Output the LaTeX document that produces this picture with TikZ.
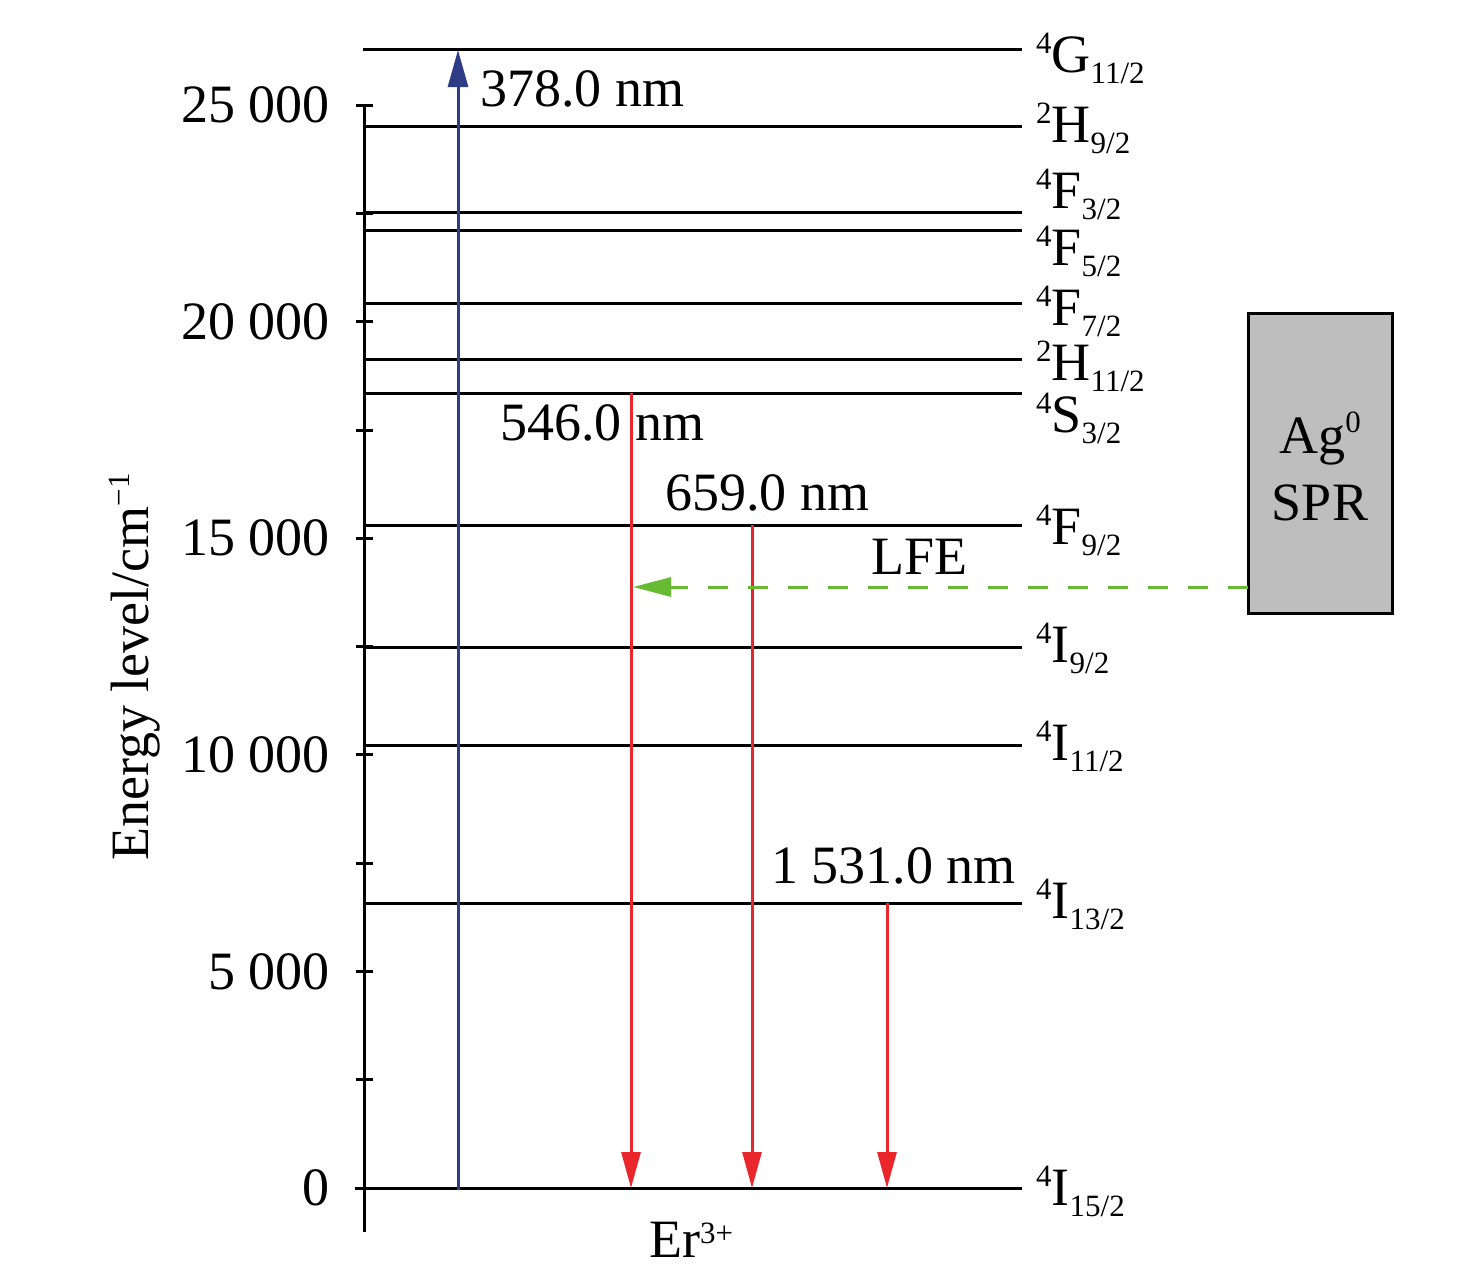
\documentclass[tikz,border=0pt]{standalone}
\usepackage{fontspec}
\setmainfont{Liberation Serif}
\usetikzlibrary{arrows.meta}
\definecolor{pumpblue}{HTML}{2E3B85}
\definecolor{emitred}{HTML}{E8262B}
\definecolor{lfegreen}{HTML}{66BB33}
\definecolor{boxgray}{HTML}{BEBEBE}
\newcommand{\bigf}{\fontsize{54}{60}\selectfont}
\newcommand{\smallf}{\fontsize{31}{33}\selectfont}
\newcommand{\lvlabel}[3]{{\smallf\raisebox{19pt}{#1}}#2{\smallf\raisebox{-11pt}{#3}}}
\begin{document}
\begin{tikzpicture}[x=1pt,y=-1pt,
  lvline/.style={line width=3pt, black},
  txt/.style={inner sep=0pt, font=\bigf, text=black},
  redarrow/.style={line width=3pt, emitred, -{Triangle[length=36pt,width=19pt]}},
  bluearrow/.style={line width=3pt, pumpblue, -{Triangle[length=37pt,width=20pt]}},
  greenarrow/.style={line width=3pt, lfegreen, dash pattern=on 20pt off 20pt, -{Triangle[length=38pt,width=19pt]}},
  agbox/.style={draw=black, fill=boxgray, line width=3pt, minimum width=144pt, minimum height=300pt, inner sep=0pt}]
\useasboundingbox (0,0) rectangle (1476,1280);

% axis
\draw[lvline] (364,105) -- (364,1232);
\foreach \ty in {105,213.3,321.6,430,538.2,646.5,754.8,863.1,971.4,1079.7,1188}
  \draw[lvline] (356,\ty) -- (373,\ty);

% tick labels
\node[txt, anchor=east] (t25) at (330,105) {25 000};
\node[txt, anchor=east] (t20) at (330,321.6) {20 000};
\node[txt, anchor=east] (t15) at (330,538.2) {15 000};
\node[txt, anchor=east] (t10) at (330,754.8) {10 000};
\node[txt, anchor=east] (t5) at (330,971.4) {5 000};
\node[txt, anchor=east] (t0) at (330,1188) {0};

% axis title
\node[txt, rotate=90, anchor=base] (ytitle) at (148,667) {Energy level/cm{\smallf\raisebox{19pt}{−1}}};

% energy levels
\draw[lvline] (363,49) -- (1022,49);
\draw[lvline] (365,126) -- (1022,126);
\draw[lvline] (365,212) -- (1022,212);
\draw[lvline] (365,230) -- (1022,230);
\draw[lvline] (365,303) -- (1022,303);
\draw[lvline] (365,359) -- (1022,359);
\draw[lvline] (365,393) -- (1022,393);
\draw[lvline] (365,525) -- (1022,525);
\draw[lvline] (365,647) -- (1022,647);
\draw[lvline] (365,745) -- (1022,745);
\draw[lvline] (365,903) -- (1022,903);
\draw[lvline] (355,1188) -- (1022,1188);

% level labels
\node[txt, anchor=base west] (lG) at (1036,72) {\lvlabel{4}{G}{11/2}};
\node[txt, anchor=base west] (lH9) at (1036,142) {\lvlabel{2}{H}{9/2}};
\node[txt, anchor=base west] (lF3) at (1036,208) {\lvlabel{4}{F}{3/2}};
\node[txt, anchor=base west] (lF5) at (1036,265) {\lvlabel{4}{F}{5/2}};
\node[txt, anchor=base west] (lF7) at (1036,325) {\lvlabel{4}{F}{7/2}};
\node[txt, anchor=base west] (lH11) at (1036,380) {\lvlabel{2}{H}{11/2}};
\node[txt, anchor=base west] (lS) at (1036,432) {\lvlabel{4}{S}{3/2}};
\node[txt, anchor=base west] (lF9) at (1036,544) {\lvlabel{4}{F}{9/2}};
\node[txt, anchor=base west] (lI9) at (1036,662) {\lvlabel{4}{I}{9/2}};
\node[txt, anchor=base west] (lI11) at (1036,760) {\lvlabel{4}{I}{11/2}};
\node[txt, anchor=base west] (lI13) at (1036,918) {\lvlabel{4}{I}{13/2}};
\node[txt, anchor=base west] (lI15) at (1036,1205) {\lvlabel{4}{I}{15/2}};

% transition end points
\coordinate (pumpS) at (458,1190);
\coordinate (pumpE) at (458,50);
\coordinate (g546S) at (631,393);
\coordinate (g546E) at (631,1188);
\coordinate (r659S) at (752,525);
\coordinate (r659E) at (752,1188);
\coordinate (ir1531S) at (887,903);
\coordinate (ir1531E) at (887,1188);

\draw[bluearrow] (pumpS) -- (pumpE);
\draw[redarrow] (g546S) -- (g546E);
\draw[redarrow] (r659S) -- (r659E);
\draw[redarrow] (ir1531S) -- (ir1531E);

% transition labels
\node[txt, anchor=base west] (n378) at (480,106) {378.0 nm};
\node[txt, anchor=base west] (n546) at (500,440) {546.0 nm};
\node[txt, anchor=base west] (n659) at (665,510) {659.0 nm};
\node[txt, anchor=base west] (n1531) at (771,883) {1 531.0 nm};
\node[txt, anchor=base west] (nlfe) at (871,574) {LFE};

% Ag box
\node[agbox] (ag) at (1320,463) {};
\node[txt, anchor=base] (agt) at (1320,453) {Ag{\smallf\raisebox{21pt}{0}}};
\node[txt, anchor=base] (spr) at (1320,520) {SPR};
\coordinate (lfeS) at (1248,587);
\coordinate (lfeE) at (633,587);
\draw[greenarrow] (lfeS) -- (lfeE);

% ion label
\node[txt, anchor=base west] (er) at (649,1257) {Er{\smallf\raisebox{14pt}{3+}}};
\end{tikzpicture}
\end{document}
